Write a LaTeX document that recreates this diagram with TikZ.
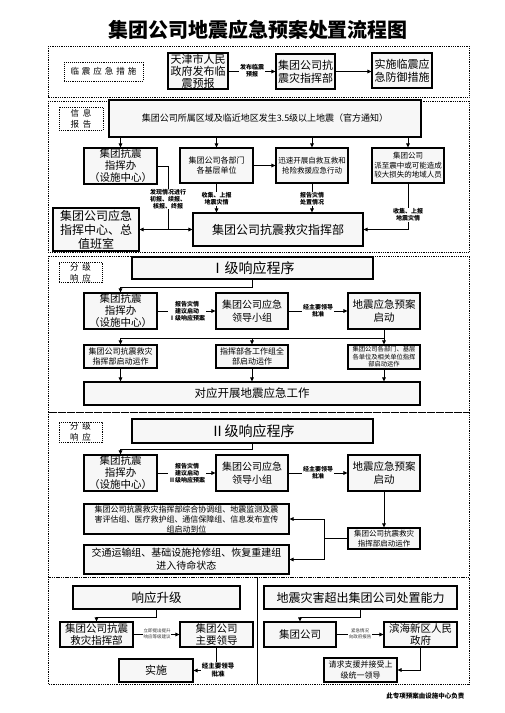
\documentclass[tikz,border=0pt]{standalone}
\usepackage{fontspec}
\setmainfont{Noto Sans CJK SC}
\usetikzlibrary{arrows.meta,positioning}
\newcommand{\myfs}[2]{\fontsize{#1}{#2}\selectfont}
\newcommand{\mybox}[7][]{%
  \pgfmathsetmacro{\bw}{#5-#3}\pgfmathsetmacro{\bh}{#6-#4}%
  \node[box,minimum width=\bw pt,minimum height=\bh pt,#1] (#2) at ({(#3+#5)/2},{(#4+#6)/2}) {#7};}
\begin{document}
\begin{tikzpicture}[x=1pt,y=-1pt,
  box/.style={draw,line width=1.1pt,fill=black!3,align=center,inner sep=0.5pt},
  lab/.style={draw,densely dotted,line width=0.8pt,fill=none,align=center,inner sep=0.5pt,font=\myfs{8.5}{11}},
  sec/.style={densely dotted,line width=0.8pt},
  arr/.style={-{Triangle[length=4pt,width=3.6pt]},line width=0.8pt},
  ln/.style={line width=0.8pt},
  tiny/.style={font=\bfseries\myfs{6}{7},fill=white,inner sep=0.6pt,align=center},
  mini/.style={font=\myfs{4.5}{5.5},fill=white,inner sep=0.5pt,align=center,text=black!80}]
\useasboundingbox (0,0) rectangle (504,713);
\fill[white] (0,0) rectangle (504,713);
% title
\node[font=\bfseries\myfs{20}{22}] (title) at (258,30) {集团公司地震应急预案处置流程图};
% ---------------- section 1
\draw[sec] (48,46) rectangle (469,97);
\mybox[lab]{l1}{64}{62}{143}{81}{临\hspace{3pt}震\hspace{3pt}应\hspace{3pt}急\hspace{3pt}措\hspace{3pt}施}
\mybox[font=\myfs{11}{12}]{a1}{168}{53}{228}{89}{天津市人民\\政府发布临\\震预报}
\mybox[font=\myfs{11}{13}]{a2}{276}{54}{335}{89}{集团公司抗\\震灾指挥部}
\mybox[font=\myfs{11}{13}]{a3}{372}{53}{432}{88}{实施临震应\\急防御措施}
\draw[arr] (a1.east |- a2) -- (a2.west);
\node[tiny] (ta1) at (252,71) {发布临震\\预报};
\draw[arr] (a2) -- (a3.west |- a2);
% ---------------- section 2
\draw[sec] (48,101) rectangle (469,252);
\mybox[lab]{l2}{59}{107}{103}{130}{信\hspace{4pt}息\\报\hspace{4pt}告}
\mybox[font=\myfs{9}{11}]{b0}{109}{100}{421}{137}{集团公司所属区域及临近地区发生3.5级以上地震（官方通知）}
\mybox[font=\myfs{10.5}{12}]{b1}{84}{148}{157}{184}{集团抗震\\指挥办\\（设施中心）}
\mybox[font=\myfs{8}{10.5}]{b2}{180}{148}{253}{183}{集团公司各部门\\各基层单位}
\mybox[font=\myfs{7.5}{10}]{b3}{276}{148}{348}{183}{迅速开展自救互救和\\抢险救援应急行动}
\mybox[font=\myfs{7.5}{9.5}]{b4}{372}{148}{444}{183}{集团公司\\派至震中或可能造成\\较大损失的地域人员}
\mybox[font=\myfs{12}{14}]{b5}{193}{213}{363}{246}{集团公司抗震救灾指挥部}
\mybox[font=\myfs{12}{14}]{b6}{53}{208}{139}{251}{集团公司应急\\指挥中心、总\\值班室}
\foreach \n in {b1,b2,b3,b4}{\draw[arr] (\n.north |- b0.south) -- (\n.north);}
\draw[arr] (b2.east) -- (b3.west);
\coordinate (j1) at (168,229.5);
\draw[ln] (b1.east |- 0,166) -| (j1);
\draw[arr] (j1) -- (b5.west);
\draw[arr] (j1) -- (b6.east |- j1);
\node[tiny] (tb1) at (168,199) {发现情况进行\\初报、续报、\\核报、终报};
\draw[arr] (b2.south) -- (b2.south |- b5.north);
\node[tiny] (tb2) at (216.5,199) {收集、上报\\地震灾情};
\draw[arr] (b3.south) -- (b3.south |- b5.north);
\node[tiny] (tb3) at (312,199) {报告灾情\\处置情况};
\draw[arr] (b4.south) |- (b5.east);
\node[tiny] (tb4) at (408,215) {收集、上报\\地震灾情};
% ---------------- section 3
\draw[sec] (48,256) rectangle (469,412);
\mybox[lab]{l3}{59}{263}{102}{282}{分\hspace{4pt}级\\响\hspace{4pt}应}
\mybox[font=\myfs{14}{16}]{c0}{132}{257}{373}{279}{Ⅰ级响应程序}
\mybox[font=\myfs{10.5}{12}]{c1}{84}{293}{157}{329}{集团抗震\\指挥办\\（设施中心）}
\mybox[font=\myfs{10}{13}]{c2}{216}{293}{288}{329}{集团公司应急\\领导小组}
\mybox[font=\myfs{10.5}{13}]{c3}{348}{293}{420}{329}{地震应急预案\\启动}
\draw[arr] (c0.south) -- ++(0,8) -| (c1.north);
\draw[arr] (c1.east) -- (c2.west);
\node[tiny] (tc1) at (187,311) {报告灾情\\建议启动\\Ⅰ级响应预案};
\draw[arr] (c2.east) -- (c3.west);
\node[tiny] (tc2) at (318,311) {经主要领导\\批准};
\mybox[font=\myfs{8}{10}]{d1}{84}{345}{157}{368}{集团公司抗震救灾\\指挥部启动运作}
\mybox[font=\myfs{8}{10}]{d2}{216}{345}{288}{368}{指挥部各工作组全\\部启动运作}
\mybox[font=\myfs{6.3}{7.5}]{d3}{348}{345}{420}{369}{集团公司各部门、基层\\各单位及相关单位指挥\\部启动运作}
\coordinate (k3) at (384,338);
\draw[ln] (c3.south) -- (k3) -- (k3 -| d1);
\draw[arr] (k3) -- (d3.north);
\draw[arr] (k3 -| d1) -- (d1.north);
\draw[arr] (k3 -| d2) -- (d2.north);
\mybox[font=\myfs{11.5}{13}]{e}{84}{382}{420}{405}{对应开展地震应急工作}
\foreach \n in {d1,d2,d3}{\draw[arr] (\n.south) -- (\n.south |- e.north);}
% ---------------- section 4
\draw[sec] (48,412) rectangle (469,577);
\mybox[lab]{l4}{59}{422}{102}{442}{分\hspace{4pt}级\\响\hspace{4pt}应}
\mybox[font=\myfs{14}{16}]{f0}{132}{419}{373}{443}{Ⅱ级响应程序}
\mybox[font=\myfs{10.5}{12}]{f1}{84}{455}{157}{491}{集团抗震\\指挥办\\（设施中心）}
\mybox[font=\myfs{10}{13}]{f2}{216}{455}{288}{491}{集团公司应急\\领导小组}
\mybox[font=\myfs{10.5}{13}]{f3}{348}{455}{420}{491}{地震应急预案\\启动}
\draw[arr] (f0.south) -- ++(0,6) -| (f1.north);
\draw[arr] (f1.east) -- (f2.west);
\node[tiny] (tf1) at (187,473) {报告灾情\\建议启动\\Ⅱ级响应预案};
\draw[arr] (f2.east) -- (f3.west);
\node[tiny] (tf2) at (318,473) {经主要领导\\批准};
\mybox[font=\myfs{7.5}{9.5}]{g}{348}{528}{420}{549}{集团公司抗震救灾\\指挥部启动运作}
\draw[arr] (f3.south) -- (f3.south |- g.north);
\mybox[font=\myfs{8}{10}]{gA}{84}{504}{289}{534}{集团公司抗震救灾指挥部综合协调组、地震监测及震\\害评估组、医疗救护组、通信保障组、信息发布宣传\\组启动到位}
\mybox[font=\myfs{10}{13}]{gB}{84}{545}{289}{574}{交通运输组、基础设施抢修组、恢复重建组\\进入待命状态}
\coordinate (jg) at (324,538.5);
\draw[ln] (g.west |- jg) -- (jg);
\draw[arr] (jg) |- (gA.east);
\draw[arr] (jg) |- (gB.east);
% ---------------- section 5
\draw[sec] (48,577) rectangle (469,684);
\draw[line width=0.8pt] (257,577) -- (257,684);
\mybox[font=\myfs{12.5}{14}]{h0}{73}{586}{240}{609}{响应升级}
\mybox[font=\myfs{10.5}{12.5}]{h1}{60}{622}{133}{647}{集团公司抗震\\救灾指挥部}
\mybox[font=\myfs{10.5}{12.5}]{h2}{180}{622}{253}{647}{集团公司\\主要领导}
\mybox[font=\myfs{11}{13}]{h3}{119}{659}{193}{682}{实施}
\draw[arr] (h0.south) -- ++(0,8) -| (h1.north);
\draw[arr] (h1.east) -- (h2.west);
\node[mini] (th1) at (157,634) {立即提出提升\\响应等级建议};
\draw[arr] (h2.south) |- (h3.east);
\node[tiny,font=\bfseries\myfs{6.5}{8}] (th2) at (218,670) {经主要领导\\批准};
\mybox[font=\myfs{12}{14}]{i0}{264}{586}{457}{609}{地震灾害超出集团公司处置能力}
\mybox[font=\myfs{10.5}{12.5}]{i1}{264}{622}{336}{647}{集团公司}
\mybox[font=\myfs{10.5}{12.5}]{i2}{384}{622}{457}{647}{滨海新区人民\\政府}
\mybox[font=\myfs{8}{10.5}]{i3}{324}{658}{397}{682}{请求支援并接受上\\级统一领导}
\draw[arr] (i0.south) -- ++(0,8) -| (i1.north);
\draw[arr] (i1.east) -- (i2.west);
\node[mini] (ti1) at (360,634) {紧急情况\\向政府报告};
\draw[arr] (i2.south) |- (i3.east);
% footer
\node[font=\bfseries\myfs{6.5}{8},anchor=east] (foot) at (468,696) {此专项预案由设施中心负责};
\end{tikzpicture}
\end{document}
